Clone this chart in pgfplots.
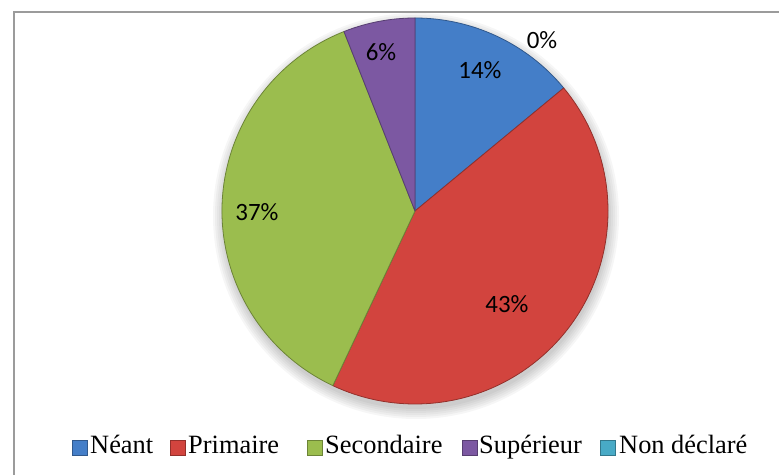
\documentclass[border=0pt]{standalone}
\usepackage{pgfplots}
\usepackage{pgfplotstable}
\pgfplotsset{compat=1.18}
\usepackage{fontspec}
\setmainfont{Liberation Serif}
\newfontfamily\labelfont{Carlito}
\newfontfamily\legendfont{Liberation Serif}

\definecolor{cNeant}{RGB}{68,126,200}
\definecolor{cPrim}{RGB}{210,68,62}
\definecolor{cSec}{RGB}{155,189,78}
\definecolor{cSup}{RGB}{124,88,162}
\definecolor{cNon}{RGB}{72,170,198}
\definecolor{framegray}{RGB}{155,155,155}

% share of each category (percent) and where its label sits
\pgfplotstableread[col sep=comma]{
label,value,lx,ly,color
Néant,14,480,405,cNeant
Primaire,43,507,171,cPrim
Secondaire,37,257,263,cSec
Supérieur,6,381,423,cSup
Non déclaré,0,542,435,cNon
}\piedata

\tikzset{
  legtext/.style={anchor=base west, inner sep=0, font=\legendfont\fontsize{26.5}{30}\selectfont},
  legbox/.style={fill=#1, draw=#1!70!black, line width=0.6bp},
}

\begin{document}
\begin{tikzpicture}
\path[use as bounding box] (0,0) rectangle (779bp,475bp);
\begin{axis}[
  scale only axis, width=779bp, height=475bp,
  xmin=0, xmax=779, ymin=0, ymax=475,
  hide axis, clip=false,
]
\pgfplotsextra{
  % outer frame
  \draw[framegray, line width=2bp] (axis cs:14,0) -- (axis cs:14,463) -- (axis cs:779,463);
  % soft shadow under the pie
  \foreach \shr in {193,195,...,203}{
    \fill[black, opacity=0.035] (axis cs:416,259) circle[radius=\shr bp];
  }
  % slices, clockwise from the top
  \xdef\pieCum{0}
  \foreach \pieI in {0,...,4}{
    \pgfplotstablegetelem{\pieI}{value}\of\piedata \let\pieVal\pgfplotsretval
    \pgfplotstablegetelem{\pieI}{color}\of\piedata \let\pieCol\pgfplotsretval
    \pgfmathsetmacro\pieA{90-3.6*\pieCum}
    \pgfmathsetmacro\pieB{90-3.6*(\pieCum+\pieVal)}
    \ifdim\pieVal pt>0pt
      \filldraw[fill=\pieCol, draw=\pieCol!70!black, line width=0.8bp, line join=round]
        (axis cs:415,264) -- ++(\pieA:193bp) arc[start angle=\pieA, end angle=\pieB, radius=193bp] -- cycle;
    \fi
    \pgfmathsetmacro\pieNext{\pieCum+\pieVal}\xdef\pieCum{\pieNext}
  }
  % percentage labels
  \foreach \pieI in {0,...,4}{
    \pgfplotstablegetelem{\pieI}{value}\of\piedata \let\pieVal\pgfplotsretval
    \pgfplotstablegetelem{\pieI}{lx}\of\piedata \let\pieLx\pgfplotsretval
    \pgfplotstablegetelem{\pieI}{ly}\of\piedata \let\pieLy\pgfplotsretval
    \node[font=\labelfont\fontsize{25}{30}\selectfont, inner sep=0]
      at (axis cs:\pieLx,\pieLy) {\pieVal\%};
  }
}
% legend
\fill[legbox=cNeant] (axis cs:72,20) rectangle (axis cs:87,35);
\node[legtext] at (axis cs:90,22) {Néant};
\fill[legbox=cPrim] (axis cs:170,20) rectangle (axis cs:185,35);
\node[legtext] at (axis cs:188,22) {Primaire};
\fill[legbox=cSec] (axis cs:307,20) rectangle (axis cs:322,35);
\node[legtext] at (axis cs:325,22) {Secondaire};
\fill[legbox=cSup] (axis cs:462,20) rectangle (axis cs:477,35);
\node[legtext] at (axis cs:479,22) {Supérieur};
\fill[legbox=cNon] (axis cs:600,20) rectangle (axis cs:615,35);
\node[legtext] at (axis cs:619,22) {Non déclaré};
\end{axis}
\end{tikzpicture}
\end{document}
